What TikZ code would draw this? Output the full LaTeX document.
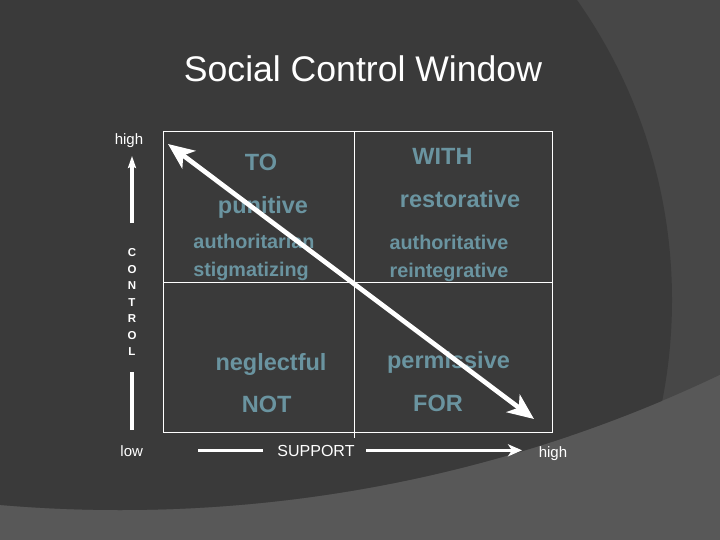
\documentclass[tikz,border=0pt]{standalone}
\usepackage{fontspec}
\setmainfont{Liberation Sans}
\usetikzlibrary{arrows.meta}
\definecolor{darkbg}{HTML}{3A3A3A}
\definecolor{midbg}{HTML}{474747}
\definecolor{lightbg}{HTML}{585858}
\definecolor{teal}{RGB}{106,148,160}
\tikzset{
  lbl/.style={anchor=base, inner sep=0pt, text=white, font=\fontsize{15}{15}\selectfont},
  big/.style={anchor=base, inner sep=0pt, text=teal, font=\fontsize{23.5}{23.5}\selectfont\bfseries},
  small/.style={anchor=base, inner sep=0pt, text=teal, font=\fontsize{19.8}{19.8}\selectfont\bfseries},
  gridline/.style={draw=white, line width=1pt},
  axis/.style={draw=white, line width=3pt},
}
\begin{document}
\begin{tikzpicture}[x=1pt,y=-1pt]
\useasboundingbox (0,0) rectangle (720,540);
% background
\fill[lightbg] (0,0) rectangle (720,540);
\begin{scope}
  \clip (120,-885) circle[radius=1395pt];
  \fill[midbg] (0,0) rectangle (720,540);
  \fill[darkbg] (151,300) circle[radius=521pt];
\end{scope}
% title
\node[anchor=base, inner sep=0pt, text=white, font=\fontsize{35.6}{35.6}\selectfont] (title) at (363,81.7) {Social Control Window};
% grid
\draw[gridline] (163,132) rectangle (552,432);
\coordinate (vtop) at (354,132);
\coordinate (vbot) at (354,438);
\coordinate (hl) at (163,282);
\coordinate (hr) at (552,282);
\draw[gridline] (vtop) -- (vbot);
\draw[gridline] (hl) -- (hr);
% quadrant texts
\node[big] (to) at (261,170.7) {TO};
\node[big] (pun) at (263,213.3) {punitive};
\node[small] (auth1) at (254,248.3) {authoritarian};
\node[small] (stig) at (251,276) {stigmatizing};
\node[big] (with) at (442.5,165) {WITH};
\node[big] (rest) at (460,207.3) {restorative};
\node[small] (auth2) at (449,249.3) {authoritative};
\node[small] (reint) at (449,277) {reintegrative};
\node[big] (negl) at (271,370) {neglectful};
\node[big] (not) at (266.7,412.3) {NOT};
\node[big] (perm) at (448.5,368.3) {permissive};
\node[big] (for) at (438,411) {FOR};
% diagonal arrow
\coordinate (d1) at (168,144);
\coordinate (d2) at (534,419);
\draw[white, line width=4.7pt, {Stealth[length=26pt,width=22pt,inset=7pt]}-{Stealth[length=26pt,width=22pt,inset=7pt]}] (d1) -- (d2);
% control axis
\node[lbl] (hightop) at (129,145) {high};
\node[lbl] (low) at (131.7,456.7) {low};
\node[lbl] (highr) at (553,457.3) {high};
\coordinate (c1) at (132,223);
\coordinate (c2) at (132,156);
\draw[white, line width=3.2pt, -{Stealth[length=12pt,width=8pt,inset=2pt]}] (c1) -- (c2);
\node[anchor=center, inner sep=0pt, text=white, align=center, font=\fontsize{11.5}{16.5}\selectfont\bfseries] (ctrl) at (132,302.4) {C\\O\\N\\T\\R\\O\\L};
\coordinate (c3) at (132,372);
\coordinate (c4) at (132,430);
\draw[white, line width=3.2pt] (c3) -- (c4);
% support axis
\node[anchor=base, inner sep=0pt, text=white, font=\fontsize{16}{16}\selectfont] (sup) at (316,456.7) {SUPPORT};
\coordinate (s1) at (198,450.7);
\coordinate (s2) at (263,450.7);
\coordinate (s3) at (366,450.3);
\coordinate (s4) at (522,450.3);
\draw[white, line width=3.2pt] (s1) -- (s2);
\draw[white, line width=3.2pt, -{Stealth[length=14pt,width=12pt,inset=4pt]}] (s3) -- (s4);
\end{tikzpicture}
\end{document}
